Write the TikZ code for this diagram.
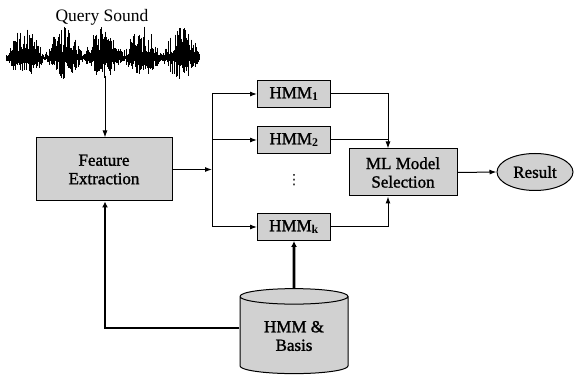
\documentclass[tikz,border=0pt]{standalone}
\usepackage{fontspec}
\setmainfont{Liberation Serif}
\newfontfamily\labelfont{Liberation Serif}[FakeBold=1.4]
\newfontfamily\symfont{DejaVu Sans}
\usepackage{tikz}
\usetikzlibrary{arrows.meta,calc,positioning,shapes.geometric}

\begin{document}
\begin{tikzpicture}[x=1pt,y=-1pt,
  box/.style={draw,line width=1pt,fill=black!18,font=\labelfont\fontsize{17}{18.5}\selectfont,align=center,inner sep=1pt},
  arr/.style={line width=1pt,-{Latex[length=7pt,width=5pt]}},
  fat/.style={line width=2.6pt,-{Latex[length=6pt,width=6pt]}}]
  \useasboundingbox (0,0) rectangle (574,379);
  % query signal
  \node[font=\fontsize{17.5}{19}\selectfont] (query) at (102,17) {Query Sound};
  \pgfmathsetseed{11}
  \draw[line width=0.8pt] (6,58) -- (200,58);
  \foreach \i in {6,6.9,...,200}{
    \pgfmathsetmacro{\env}{0.12+0.88*abs(sin((\i-6)*4.615))}
    \pgfmathsetmacro{\up}{\env*(6+26*rnd)}
    \pgfmathsetmacro{\dn}{\env*(4+17*rnd)}
    \draw[line width=0.9pt] (\i,58-\up) -- (\i,58+\dn);
  }
  \coordinate (wavebot) at (105,76);
  % blocks
  \node[box,minimum width=136,minimum height=63] (feat) at (104,169.5) {Feature\\Extraction};
  \node[box,minimum width=73,minimum height=27] (hmm1) at (294,94) {HMM$_{\mathbf{1}}$};
  \node[box,minimum width=73,minimum height=27] (hmm2) at (294,140) {HMM$_{\mathbf{2}}$};
  \node[font=\symfont\fontsize{14}{15}\selectfont] (dots) at (294,180) {⋮};
  \node[box,minimum width=73,minimum height=27] (hmmk) at (294,227) {HMM$_{\mathbf{k}}$};
  \node[box,minimum width=108,minimum height=47] (ml) at (403,172.5) {ML Model\\Selection};
  \node[box,ellipse,minimum width=76,minimum height=37] (res) at (535,172) {Result};
  \node[box,cylinder,shape border rotate=90,aspect=0.25,minimum width=108,minimum height=85] (db) at (294,336) {HMM \&\\Basis};
  \coordinate (split) at (212,169.5);
  \coordinate (mlin) at (388,172);
  % connectors
  \draw[arr] (wavebot) -- (feat.north -| wavebot);
  \draw[arr] (feat.east) -- (split);
  \draw[arr] (split) |- (hmm1.west);
  \draw[arr] (split) |- (hmm2.west);
  \draw[arr] (split) |- (hmmk.west);
  \draw[arr] (hmm1.east) -| (ml.north -| mlin);
  \draw[line width=1pt] (hmm2.east) -- (hmm2.east -| mlin);
  \draw[arr] (hmmk.east) -| (ml.south -| mlin);
  \draw[arr] (ml.east) -- (res.west);
  \draw[fat] (db.north) -- (hmmk.south);
  \draw[fat] ([yshift=8]db.west) -| (feat.south -| wavebot);
\end{tikzpicture}
\end{document}
